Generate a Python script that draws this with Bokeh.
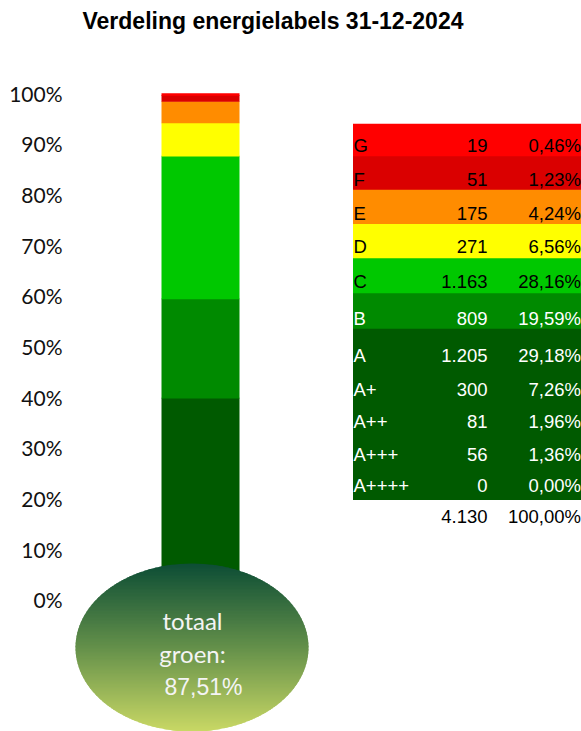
import numpy as np
from bokeh.plotting import figure
from bokeh.models import Range1d, FixedTicker, NumeralTickFormatter, Label, ColumnDataSource
from bokeh.core.properties import value
from bokeh.embed import file_html
from bokeh.resources import INLINE

# Energy label counts and shares on 31-12-2024 (top row first)
labels = ["G", "F", "E", "D", "C", "B", "A", "A+", "A++", "A+++", "A++++"]
counts = [19, 51, 175, 271, 1163, 809, 1205, 300, 81, 56, 0]
percents = [0.46, 1.23, 4.24, 6.56, 28.16, 19.59, 29.18, 7.26, 1.96, 1.36, 0.00]
total_count = 4130
total_percent = 100.00
green_percent = 87.51
title_text = "Verdeling energielabels 31-12-2024"
y_ticks = [0.0, 0.1, 0.2, 0.3, 0.4, 0.5, 0.6, 0.7, 0.8, 0.9, 1.0]

label_colors = {
    "G": "#FF0000", "F": "#DA0000", "E": "#FF8C00", "D": "#FFFF00",
    "C": "#00C800", "B": "#008A00", "A": "#005A00", "A+": "#005A00",
    "A++": "#005A00", "A+++": "#005A00", "A++++": "#005A00",
}
text_colors = {"G": "black", "F": "black", "E": "black", "D": "black", "C": "black"}


def nl_int(n):
    return f"{n:,}".replace(",", ".")


def nl_pct(p):
    return f"{p:.2f}".replace(".", ",") + "%"


W, H = 581, 731
FRAME_LEFT = 70
PX_PER_UNIT = 506.5          # screen pixels for 100 %
ZERO_PX = 599.3              # screen row of the 0 % tick
y_end = ZERO_PX / PX_PER_UNIT
y_start = y_end - H / PX_PER_UNIT
SEAM = 0.7                   # px of overlap between touching blocks

p = figure(width=W, height=H, output_backend="svg", toolbar_location=None,
           x_range=Range1d(FRAME_LEFT, W), y_range=Range1d(y_start, y_end),
           min_border_left=FRAME_LEFT, min_border_right=0,
           min_border_top=0, min_border_bottom=0)
p.extra_y_ranges = {"px": Range1d(H, 0)}
p.xaxis.visible = False
p.xgrid.visible = False
p.ygrid.visible = False
p.outline_line_color = None
p.background_fill_color = "white"
p.border_fill_color = "white"

ax = p.yaxis[0]
ax.ticker = FixedTicker(ticks=y_ticks)
ax.formatter = NumeralTickFormatter(format="0%")
ax.axis_line_color = None
ax.major_tick_line_color = None
ax.major_tick_in = 0
ax.major_tick_out = 0
ax.minor_tick_line_color = None
ax.major_label_standoff = 8
ax.major_label_text_font = "Lato"
ax.major_label_text_font_size = "21px"
ax.major_label_text_color = "#111111"

# Stacked column, bottom class first; neighbouring classes of the same
# colour are merged into one block
stack_labels = labels[::-1]
stack_vals = [v / 100.0 for v in percents[::-1]]
seg_bottom, seg_top, seg_color = [], [], []
level = 0.0
for lab, v in zip(stack_labels, stack_vals):
    col = label_colors[lab]
    if seg_color and seg_color[-1] == col:
        seg_top[-1] = level + v
    else:
        seg_bottom.append(level)
        seg_top.append(level + v)
        seg_color.append(col)
    level += v
# each block reaches a hair under the next one so no light seam shows
under_top = [t + SEAM / PX_PER_UNIT for t in seg_top[:-1]] + [seg_top[-1]]
bar_src = ColumnDataSource(dict(bottom=seg_bottom, top=seg_top,
                                under_top=under_top, color=seg_color))
p.vbar(x=200, width=78, bottom="bottom", top="under_top", fill_color="color",
       line_color=None, source=bar_src)

# Bulb at the foot of the column, shaded top to bottom
cx, cy, rx, ry = 191.5, 647.0, 116.5, 84.0
stops_t = [0.0, 0.5, 1.0]
stops_rgb = np.array([[12, 77, 53], [100, 144, 74], [201, 216, 101]])
n_strips = 120
edges = np.linspace(cy - ry, cy + ry, n_strips + 1)
xs, ys, cols = [], [], []
for i in range(n_strips):
    y0, y1 = edges[i], min(edges[i + 1] + 0.8, cy + ry)
    yy = np.linspace(y0, y1, 6)
    half = rx * np.sqrt(np.clip(1 - ((yy - cy) / ry) ** 2, 0, 1))
    xs.append(list(cx - half) + list(cx + half[::-1]))
    ys.append(list(yy) + list(yy[::-1]))
    t = (0.5 * (edges[i] + edges[i + 1]) - (cy - ry)) / (2 * ry)
    rgb = [int(round(np.interp(t, stops_t, stops_rgb[:, k]))) for k in range(3)]
    cols.append("#%02x%02x%02x" % tuple(rgb))
p.patches(xs=xs, ys=ys, fill_color=cols, line_color=None, y_range_name="px")

white = "#F4F4F4"
p.add_layout(Label(x=192, y=619.5, y_range_name="px", text="totaal",
                   text_font="Lato", text_font_size="24px", text_color=white,
                   text_align="center", text_baseline="middle"))
p.add_layout(Label(x=192, y=652.5, y_range_name="px", text="groen:",
                   text_font="Lato", text_font_size="24px", text_color=white,
                   text_align="center", text_baseline="middle"))
p.add_layout(Label(x=203, y=686, y_range_name="px", text=nl_pct(green_percent),
                   text_font="Liberation Sans", text_font_size="23px", text_color=white,
                   text_align="center", text_baseline="middle"))

# Table of classes
band_tops = [123.3, 155.8, 189.3, 223.5, 257.7, 292.8]
band_bottoms = [155.8, 189.3, 223.5, 257.7, 292.8, 328.3]
band_labels = labels[:6]
p.quad(left=352.5, right=W, top=band_tops, bottom=[b + SEAM for b in band_bottoms],
       fill_color=[label_colors[l] for l in band_labels], line_color=None,
       y_range_name="px")
p.quad(left=352.5, right=W, top=328.3, bottom=499.5,
       fill_color=label_colors["A"], line_color=None, y_range_name="px")

row_mid = [145.2, 178.8, 212.5, 245.8, 280.8, 317.5, 355.2, 388.5, 420.8, 454.2, 485.2]
tcols = [text_colors.get(l, "white") for l in labels]
tab_src = ColumnDataSource(dict(
    y=row_mid, lab=labels, num=[nl_int(c) for c in counts],
    pct=[nl_pct(v) for v in percents], col=tcols,
))
font = value("Liberation Sans")
for x, col_name, align in [(353, "lab", "left"), (487, "num", "right"), (580.5, "pct", "right")]:
    p.text(x=x, y="y", text=col_name, source=tab_src, text_color="col",
           text_font=font, text_font_size="18.5px", text_align=align,
           text_baseline="middle", y_range_name="px")

p.add_layout(Label(x=487, y=516, y_range_name="px", text=nl_int(total_count),
                   text_font="Liberation Sans", text_font_size="18.5px",
                   text_color="black", text_align="right", text_baseline="middle"))
p.add_layout(Label(x=580.5, y=516, y_range_name="px", text=nl_pct(total_percent),
                   text_font="Liberation Sans", text_font_size="18.5px",
                   text_color="black", text_align="right", text_baseline="middle"))

p.add_layout(Label(x=272.5, y=20.5, y_range_name="px", text=title_text,
                   text_font="Liberation Sans", text_font_style="bold",
                   text_font_size="23px", text_color="black",
                   text_align="center", text_baseline="middle"))

open("out.html", "w").write(file_html(p, INLINE))
